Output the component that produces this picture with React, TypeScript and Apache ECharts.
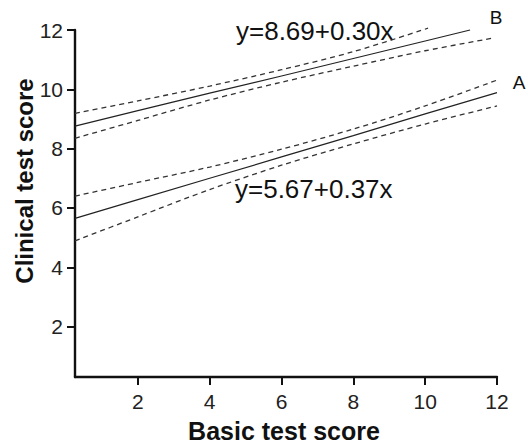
import React, { useEffect, useRef } from "react";
import * as echarts from "echarts";

// Line A (y=5.67+0.37x) and its confidence band
const aX = [0.25, 2, 4, 6, 8, 10, 12];
const aFit = [5.65, 6.28, 7.0, 7.72, 8.44, 9.17, 9.89];
const aUpper = [6.4, 6.86, 7.38, 7.98, 8.66, 9.44, 10.31];
const aLower = [4.89, 5.7, 6.62, 7.44, 8.16, 8.83, 9.44];

// Line B (y=8.69+0.30x) and its confidence band
const bFitX = [0.25, 2, 4, 6, 8, 10, 11.25];
const bFit = [8.76, 9.28, 9.87, 10.45, 11.04, 11.63, 12.0];
const bUpperX = [0.25, 2, 4, 6, 8, 10.08];
const bUpper = [9.19, 9.61, 10.11, 10.66, 11.27, 12.06];
const bLowerX = [0.25, 2, 4, 6, 8, 10, 11.86];
const bLower = [8.35, 8.95, 9.64, 10.24, 10.78, 11.3, 11.72];

const xTicks = [2, 4, 6, 8, 10, 12];
const yTicks = [2, 4, 6, 8, 10, 12];

const xTitle = "Basic test score";
const yTitle = "Clinical test score";
const eqA = "y=5.67+0.37x";
const eqB = "y=8.69+0.30x";

const FONT = 'Arial, "Liberation Sans", Helvetica, sans-serif';

const pairs = (xs: number[], ys: number[]) => xs.map((x, i) => [x, ys[i]]);

export default function App() {
  const ref = useRef<HTMLDivElement>(null);
  useEffect(() => {
    if (!ref.current) return;
    const chart = echarts.init(ref.current, undefined, { renderer: "svg" });
    const solid = { color: "#222", width: 1.2, type: "solid" as const };
    const dashed = { color: "#333", width: 1.3, type: [5, 4] as any };
    const mk = (data: number[][], ls: any, smooth: boolean) => ({
      type: "line",
      data,
      showSymbol: false,
      symbol: "none",
      smooth: smooth ? 0.3 : false,
      clip: false,
      lineStyle: ls,
      silent: true,
    });
    const center = { textAlign: "center", align: "center", textVerticalAlign: "middle", verticalAlign: "middle" };
    const leftMid = { textAlign: "left", align: "left", textVerticalAlign: "middle", verticalAlign: "middle" };
    chart.setOption({
      animation: false,
      backgroundColor: "#fff",
      grid: { left: 75, right: 31, top: 30, bottom: 71 },
      xAxis: {
        type: "value",
        min: 0.25,
        max: 12,
        splitLine: { show: false },
        axisLine: { lineStyle: { color: "#111", width: 2.4 } },
        axisTick: { show: true, length: 8, lineStyle: { color: "#111", width: 2 }, customValues: xTicks },
        axisLabel: { color: "#222", fontSize: 21, fontFamily: FONT, margin: 14, customValues: xTicks },
      },
      yAxis: {
        type: "value",
        min: 0.3,
        max: 12,
        splitLine: { show: false },
        axisLine: { show: true, lineStyle: { color: "#111", width: 2.4 } },
        axisTick: { show: true, length: 8, lineStyle: { color: "#111", width: 2 }, customValues: yTicks },
        axisLabel: { color: "#222", fontSize: 21, fontFamily: FONT, margin: 12, customValues: yTicks },
      },
      series: [
        mk(pairs(aX, aFit), solid, false),
        mk(pairs(aX, aUpper), dashed, true),
        mk(pairs(aX, aLower), dashed, true),
        mk(pairs(bFitX, bFit), solid, false),
        mk(pairs(bUpperX, bUpper), dashed, true),
        mk(pairs(bLowerX, bLower), dashed, true),
      ],
      graphic: [
        { type: "text", x: 284, y: 431, style: { text: xTitle, font: `bold 25px ${FONT}`, fill: "#111", ...center } },
        { type: "text", x: 24, y: 181, rotation: Math.PI / 2, style: { text: yTitle, font: `bold 24px ${FONT}`, fill: "#111", ...center } },
        { type: "text", x: 236, y: 31, style: { text: eqB, font: `26px ${FONT}`, fill: "#111", ...leftMid } },
        { type: "text", x: 235, y: 189, style: { text: eqA, font: `26px ${FONT}`, fill: "#111", ...leftMid } },
        { type: "text", x: 496, y: 17, style: { text: "B", font: `19px ${FONT}`, fill: "#111", ...center } },
        { type: "text", x: 519, y: 82, style: { text: "A", font: `19px ${FONT}`, fill: "#111", ...center } },
      ],
    });
    return () => chart.dispose();
  }, []);
  return <div ref={ref} style={{ position: "fixed", left: 0, top: 0, width: 528, height: 448 }} />;
}
